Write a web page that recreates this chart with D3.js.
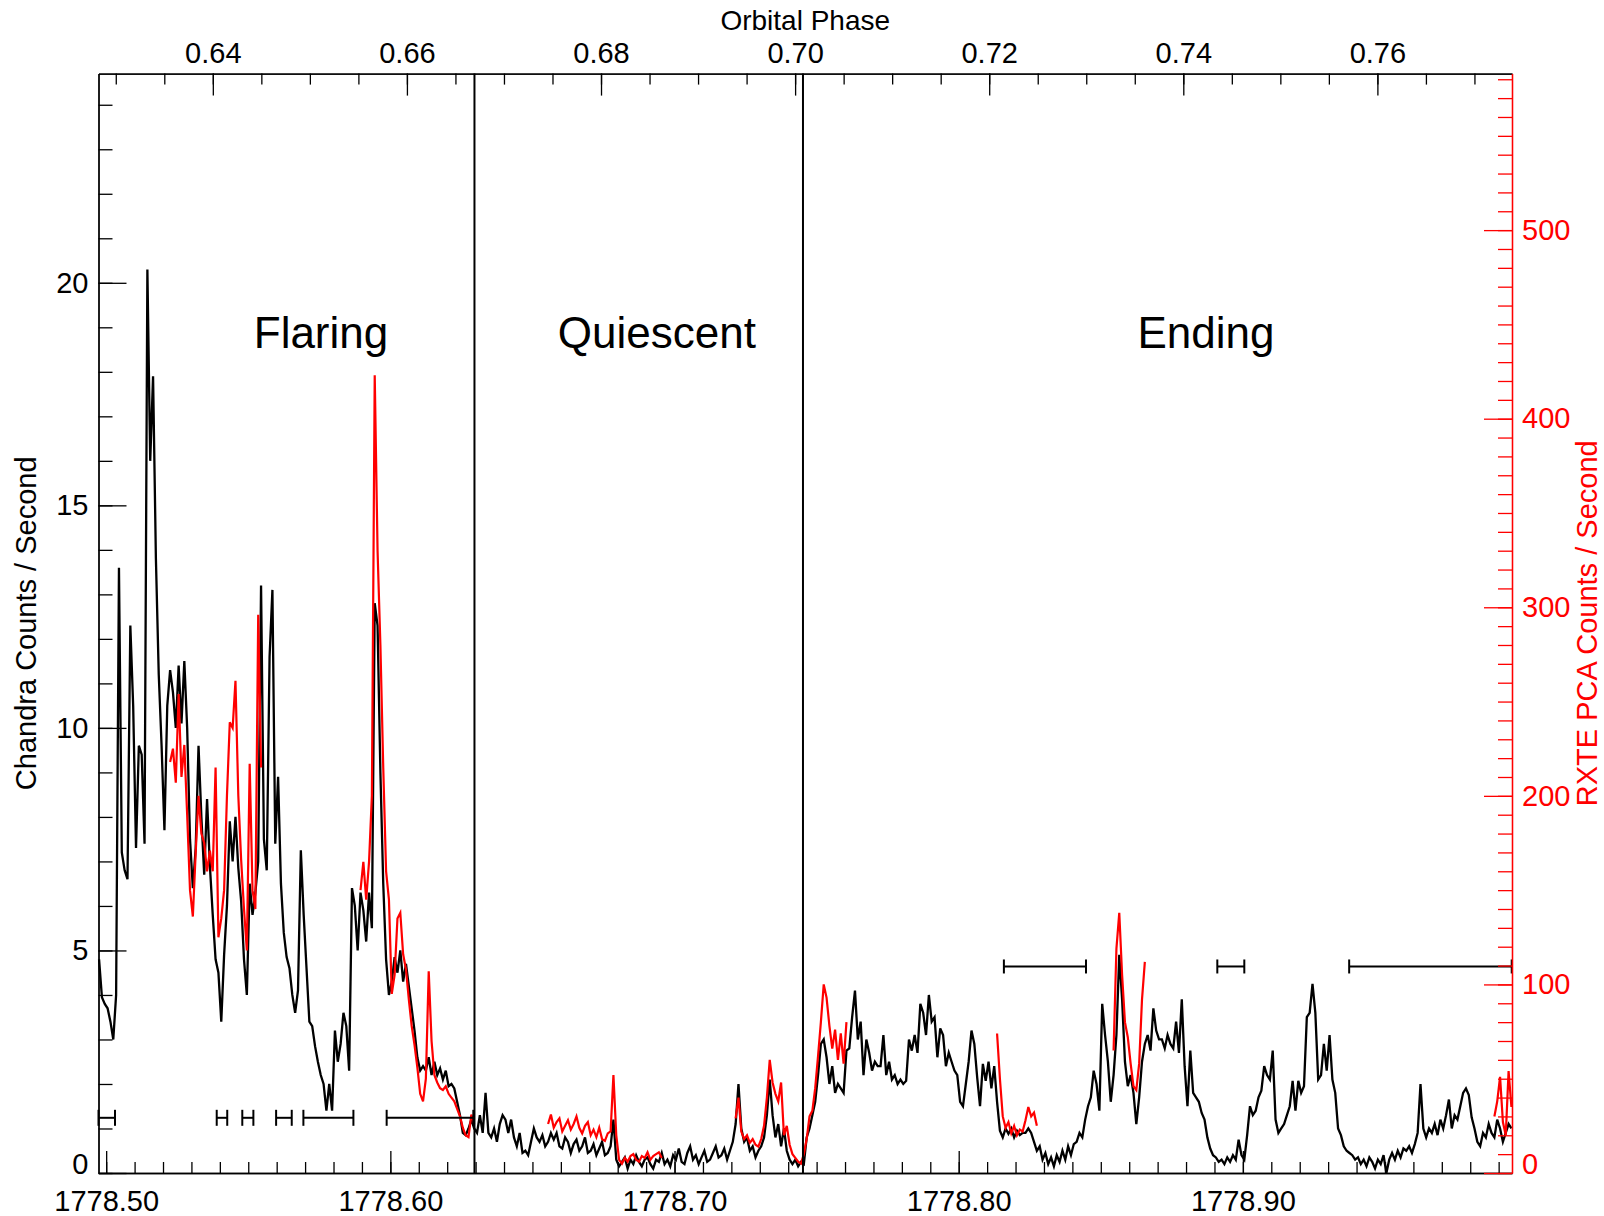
<!DOCTYPE html>
<html>
<head>
<meta charset="utf-8">
<script src="https://cdn.jsdelivr.net/npm/d3@7"></script>
<style>
  html, body { margin: 0; padding: 0; background: #ffffff; }
  svg { display: block; font-family: "Liberation Sans", Arial, Helvetica, sans-serif; }
</style>
</head>
<body>
<svg id="chart" width="1604" height="1216"></svg>
<script>
// ---- Data -----------------------------------------------------------------
// Time axis (days) and matching orbital phase at the two plot edges
const timeDomain = [1778.4973, 1778.9947];
const phaseDomain = [0.62822, 0.77387];
const timeTicks = [1778.5, 1778.6, 1778.7, 1778.8, 1778.9];
const phaseTicks = [0.64, 0.66, 0.68, 0.70, 0.72, 0.74, 0.76];
const chandraTicks = [0, 5, 10, 15, 20];
const rxteTicks = [0, 100, 200, 300, 400, 500];
const chandraDomain = [0, 24.7];
const rxteDomain = [0, 583];

// Chandra light curve: counts / s in 0.001 d bins
const chandraStart = 1778.4975;
const chandraStep = 0.001;
const chandraRate = [
  4.8, 3.95, 3.8, 3.7, 3.4, 3.0, 4.0, 13.6, 7.2, 6.8,
  6.6, 12.3, 10.5, 7.3, 9.6, 9.4, 7.4, 20.3, 16.0, 17.9,
  13.8, 11.2, 9.6, 7.7, 10.5, 11.3, 10.8, 10.0, 11.4, 10.1,
  11.5, 10.0, 7.5, 6.4, 7.3, 9.6, 8.0, 6.7, 8.4, 6.9,
  5.8, 4.8, 4.5, 3.4, 4.9, 6.0, 7.9, 7.0, 8.0, 6.85,
  6.1, 4.8, 4.0, 6.5, 5.8, 6.3, 7.0, 13.2, 7.5, 6.8,
  11.6, 13.1, 7.4, 8.9, 6.5, 5.4, 4.85, 4.6, 4.0, 3.6,
  4.1, 7.25, 5.8, 4.6, 3.4, 3.3, 2.85, 2.5, 2.2, 2.0,
  1.4, 2.0, 1.4, 3.2, 2.5, 2.9, 3.6, 3.3, 2.3, 6.4,
  6.0, 5.0, 6.3, 5.9, 5.2, 6.3, 5.5, 12.8, 12.3, 9.0,
  6.5, 4.8, 4.0, 4.3, 4.85, 4.5, 5.0, 4.3, 4.7, 4.2,
  3.7, 3.2, 2.6, 2.3, 2.4, 2.3, 2.6, 2.2, 2.5, 2.2,
  2.35, 2.1, 2.3, 1.95, 2.0, 1.9, 1.6, 1.3, 0.9, 0.85,
  1.0, 1.2, 1.0, 0.9, 1.3, 0.9, 1.8, 0.9, 0.8, 1.0,
  0.7, 1.1, 1.3, 1.2, 0.9, 1.2, 0.8, 0.6, 0.9, 0.45,
  0.5, 0.4, 0.7, 1.0, 0.8, 0.7, 0.85, 0.6, 0.7, 0.9,
  0.75, 0.9, 0.6, 0.55, 0.8, 0.7, 0.45, 0.65, 0.75, 0.5,
  0.6, 0.8, 0.45, 0.5, 0.65, 0.4, 0.55, 0.7, 0.4, 0.45,
  0.6, 1.2, 0.3, 0.15, 0.25, 0.35, 0.1, 0.3, 0.2, 0.4,
  0.25, 0.15, 0.3, 0.35, 0.2, 0.1, 0.3, 0.25, 0.45, 0.2,
  0.3, 0.15, 0.4, 0.3, 0.55, 0.25, 0.2, 0.45, 0.6, 0.3,
  0.4, 0.2, 0.35, 0.5, 0.25, 0.3, 0.45, 0.6, 0.35, 0.4,
  0.55, 0.3, 0.5, 0.7, 1.1, 2.0, 1.0, 0.7, 0.8, 0.5,
  0.6, 0.35, 0.5, 0.6, 0.8, 1.3, 2.1, 1.3, 0.8, 1.1,
  0.6, 1.0, 0.5, 0.3, 0.2, 0.3, 0.15, 0.25, 0.2, 0.8,
  1.0, 1.3, 1.6, 2.2, 2.9, 3.0, 2.6, 2.0, 2.4, 1.8,
  2.0, 1.9, 1.8, 2.75, 2.8, 3.5, 4.1, 3.0, 3.4, 2.2,
  3.0, 2.7, 2.3, 2.5, 2.4, 2.4, 3.1, 2.2, 2.5, 2.1,
  2.2, 2.0, 2.1, 2.0, 2.07, 3.0, 2.75, 3.1, 2.7, 3.8,
  3.6, 3.1, 4.0, 3.4, 3.5, 2.6, 3.25, 3.1, 2.4, 2.7,
  2.5, 2.3, 2.2, 1.6, 1.5, 2.0, 2.5, 3.2, 2.9, 2.15,
  1.5, 2.45, 2.07, 2.5, 1.9, 2.4, 1.6, 0.95, 0.8, 1.0,
  0.88, 1.0, 0.8, 0.95, 0.85, 0.9, 0.9, 1.0, 0.9, 0.7,
  0.5, 0.6, 0.3, 0.45, 0.2, 0.35, 0.15, 0.4, 0.25, 0.5,
  0.3, 0.6, 0.4, 0.65, 0.7, 0.9, 0.8, 1.2, 1.5, 1.7,
  2.3, 2.0, 1.4, 3.8, 3.1, 2.5, 1.6, 2.2, 3.1, 4.9,
  3.9, 2.5, 1.95, 2.2, 1.8, 1.1, 1.7, 2.5, 2.9, 3.1,
  2.75, 3.7, 3.2, 3.0, 3.0, 2.8, 3.1, 2.9, 2.8, 3.4,
  2.7, 3.9, 2.4, 1.5, 2.75, 1.8, 1.7, 1.6, 1.35, 1.2,
  0.8, 0.55, 0.4, 0.35, 0.25, 0.3, 0.2, 0.35, 0.25, 0.4,
  0.3, 0.75, 0.4, 0.3, 0.85, 1.5, 1.3, 1.4, 1.7, 1.85,
  2.4, 2.2, 2.1, 2.75, 1.2, 0.9, 1.0, 1.1, 1.3, 1.5,
  2.07, 1.4, 2.07, 1.8, 1.95, 3.5, 3.6, 4.25, 3.6, 2.1,
  2.2, 2.9, 2.3, 3.1, 2.1, 1.8, 1.0, 0.85, 0.6, 0.5,
  0.45, 0.4, 0.3, 0.35, 0.2, 0.3, 0.15, 0.35, 0.25, 0.1,
  0.3, 0.2, 0.4, 0.0, 0.3, 0.45, 0.3, 0.5, 0.35, 0.55,
  0.5, 0.6, 0.45, 0.65, 0.9, 2.0, 1.0, 0.8, 1.0, 0.9,
  1.1, 0.85, 1.2, 1.0, 1.3, 1.65, 1.0, 1.3, 1.2, 1.5,
  1.8, 1.9, 1.75, 1.25, 1.0, 0.7, 0.6, 0.9, 0.8, 1.1,
  0.9, 0.8, 1.2, 1.0, 0.7, 0.9, 1.1, 1.0
];

// RXTE PCA light curve: counts / s, observed in separate pointings
const rxteStep = 0.001;
const rxteSegmentStart = [1778.5225, 1778.5895, 1778.6555, 1778.7215, 1778.8135, 1778.8545, 1778.9885];
const rxteRate = [
  [218, 225, 207, 254, 210, 227, 190, 150, 136, 170, 200, 180, 175, 160, 171, 160, 215, 125,
   135, 150, 200, 239, 236, 261, 200, 166, 140, 118, 217, 150, 140, 296, 215],
  [150, 165, 145, 165, 200, 423, 330, 280, 215, 160, 145, 95, 105, 135, 138, 116, 108, 92,
   78, 68, 56, 42, 38, 50, 107, 70, 52, 48, 45, 44, 46, 42, 40, 38, 34, 30, 24, 20, 19, 31, 26],
  [26, 31, 24, 27, 29, 22, 25, 28, 23, 26, 30, 24, 21, 25, 27, 20, 23, 19, 24, 18,
   17, 21, 22, 52, 20, 7, 5, 8, 6, 9, 10, 7, 6, 9, 8, 11, 7, 9, 10, 11, 8],
  [29, 40, 22, 18, 20, 16, 18, 15, 14, 18, 25, 40, 60, 48, 42, 38, 48, 20, 25, 15, 10, 8,
   6, 5, 10, 18, 30, 33, 45, 62, 80, 100, 93, 78, 66, 76, 60, 74, 58, 80],
  [74, 50, 30, 24, 27, 21, 25, 20, 23, 22, 28, 35, 30, 32, 25],
  [65, 119, 138, 105, 80, 72, 58, 46, 44, 58, 92, 112],
  [30, 38, 51, 27, 20, 54, 35]
];

// Time intervals marked with horizontal bars: [start, end, Chandra-rate level]
const intervalBars = [
  [1778.4973, 1778.5031, 1.24], [1778.5389, 1778.5426, 1.24], [1778.5479, 1778.5518, 1.24],
  [1778.5598, 1778.5653, 1.24], [1778.5694, 1778.5870, 1.24], [1778.5987, 1778.6292, 1.24],
  [1778.8159, 1778.8448, 4.64], [1778.8910, 1778.9005, 4.64], [1778.9374, 1778.9946, 4.64]
];

// State boundaries and state names
const stateBoundaries = [1778.6296, 1778.7452];
const stateLabels = [
  { name: "Flaring", t: 1778.5756 },
  { name: "Quiescent", t: 1778.6938 },
  { name: "Ending", t: 1778.8870 }
];
const stateLabelLevel = 18.54;

// ---- Layout ---------------------------------------------------------------
const frame = { left: 98.5, right: 1512, top: 73.6, bottom: 1173 };
const FONT = '"Liberation Sans", Arial, Helvetica, sans-serif';
const RED = "#ff0000";

const svg = d3.select("#chart");
svg.append("rect").attr("width", 1604).attr("height", 1216).attr("fill", "#ffffff");

const x = d3.scaleLinear().domain(timeDomain).range([frame.left, frame.right]);
const xPhase = d3.scaleLinear().domain(phaseDomain).range([frame.left, frame.right]);
const yL = d3.scaleLinear().domain(chandraDomain).range([frame.bottom, frame.top]);
const yR = d3.scaleLinear().domain(rxteDomain).range([frame.bottom, frame.top]);

function styleAxis(g, color) {
  g.attr("font-family", FONT).attr("font-size", 29);
  g.select(".domain").attr("stroke", color).attr("stroke-width", 1.3);
  g.selectAll(".tick line").attr("stroke", color).attr("stroke-width", 1.3);
  g.selectAll(".tick text").attr("fill", color);
}

// ---- Series ---------------------------------------------------------------
const chandraPoints = chandraRate.map((v, i) => ({ t: chandraStart + i * chandraStep, v }));
const lineL = d3.line().x(d => x(d.t)).y(d => yL(d.v));
const lineR = d3.line().x(d => x(d.t)).y(d => yR(d.v));

svg.append("path")
  .datum(chandraPoints)
  .attr("d", lineL)
  .attr("fill", "none")
  .attr("stroke", "#000")
  .attr("stroke-width", 2.3)
  .attr("stroke-linejoin", "miter");

rxteRate.forEach((seg, k) => {
  const pts = seg.map((v, i) => ({ t: rxteSegmentStart[k] + i * rxteStep, v }));
  svg.append("path")
    .datum(pts)
    .attr("d", lineR)
    .attr("fill", "none")
    .attr("stroke", RED)
    .attr("stroke-width", 2.2);
});

// ---- Interval bars ---------------------------------------------------------
const bars = svg.append("g").attr("stroke", "#000").attr("stroke-width", 2);
intervalBars.forEach(([a, b, lvl]) => {
  const yy = yL(lvl);
  const cap = lvl > 3 ? 7 : 8;
  bars.append("line").attr("x1", x(a)).attr("x2", x(b)).attr("y1", yy).attr("y2", yy);
  bars.append("line").attr("x1", x(a)).attr("x2", x(a)).attr("y1", yy - cap).attr("y2", yy + cap);
  bars.append("line").attr("x1", x(b)).attr("x2", x(b)).attr("y1", yy - cap).attr("y2", yy + cap);
});

// ---- State boundaries & names ----------------------------------------------
stateBoundaries.forEach(t => {
  svg.append("line")
    .attr("x1", x(t)).attr("x2", x(t))
    .attr("y1", frame.top).attr("y2", frame.bottom)
    .attr("stroke", "#000").attr("stroke-width", 2);
});
svg.selectAll("text.state")
  .data(stateLabels)
  .enter().append("text")
  .attr("class", "state")
  .attr("x", d => x(d.t))
  .attr("y", yL(stateLabelLevel))
  .attr("text-anchor", "middle")
  .attr("font-family", FONT)
  .attr("font-size", 44)
  .attr("fill", "#000")
  .text(d => d.name);

// ---- Axes ------------------------------------------------------------------
// bottom: time in days
const minorTime = d3.range(50, 100).map(k => 1778 + k / 100);
svg.append("g").attr("transform", `translate(0,${frame.bottom})`)
  .call(d3.axisBottom(x).tickValues(minorTime).tickSize(-11).tickSizeOuter(0).tickFormat(""))
  .call(g => styleAxis(g, "#000"));
svg.append("g").attr("transform", `translate(0,${frame.bottom})`)
  .call(d3.axisBottom(x).tickValues(timeTicks).tickSize(-22).tickSizeOuter(0)
    .tickPadding(17).tickFormat(d3.format(".2f")))
  .call(g => styleAxis(g, "#000"));

// top: orbital phase
const minorPhase = d3.range(126, 155).map(k => k * 0.005);
svg.append("g").attr("transform", `translate(0,${frame.top})`)
  .call(d3.axisTop(xPhase).tickValues(minorPhase).tickSize(-11).tickSizeOuter(0).tickFormat(""))
  .call(g => styleAxis(g, "#000"));
svg.append("g").attr("transform", `translate(0,${frame.top})`)
  .call(d3.axisTop(xPhase).tickValues(phaseTicks).tickSize(-22).tickSizeOuter(0)
    .tickPadding(11).tickFormat(d3.format(".2f")))
  .call(g => styleAxis(g, "#000"));

// left: Chandra rate
svg.append("g").attr("transform", `translate(${frame.left},0)`)
  .call(d3.axisLeft(yL).tickValues(d3.range(0, 25)).tickSize(-14).tickSizeOuter(0).tickFormat(""))
  .call(g => styleAxis(g, "#000"));
svg.append("g").attr("transform", `translate(${frame.left},0)`)
  .call(d3.axisLeft(yL).tickValues(chandraTicks).tickSize(-28).tickSizeOuter(0).tickPadding(10))
  .call(g => styleAxis(g, "#000"))
  .call(g => g.selectAll(".tick text").filter(d => d === 0).attr("dy", "0em"));

// right: RXTE rate
svg.append("g").attr("transform", `translate(${frame.right},0)`)
  .call(d3.axisRight(yR).tickValues(d3.range(0, 590, 10)).tickSize(-14).tickSizeOuter(0).tickFormat(""))
  .call(g => styleAxis(g, RED));
svg.append("g").attr("transform", `translate(${frame.right},0)`)
  .call(d3.axisRight(yR).tickValues(rxteTicks).tickSize(-28).tickSizeOuter(0).tickPadding(10))
  .call(g => styleAxis(g, RED))
  .call(g => g.selectAll(".tick text").filter(d => d === 0).attr("dy", "0em"));

// ---- Titles ----------------------------------------------------------------
svg.append("text")
  .attr("x", (frame.left + frame.right) / 2).attr("y", 30)
  .attr("text-anchor", "middle")
  .attr("font-family", FONT).attr("font-size", 28).attr("fill", "#000")
  .text("Orbital Phase");

svg.append("text")
  .attr("transform", `translate(36,${(frame.top + frame.bottom) / 2}) rotate(-90)`)
  .attr("text-anchor", "middle")
  .attr("font-family", FONT).attr("font-size", 29).attr("fill", "#000")
  .text("Chandra Counts / Second");

svg.append("text")
  .attr("transform", `translate(1597,${(frame.top + frame.bottom) / 2}) rotate(-90)`)
  .attr("text-anchor", "middle")
  .attr("font-family", FONT).attr("font-size", 29).attr("fill", RED)
  .text("RXTE PCA Counts / Second");
</script>
</body>
</html>
